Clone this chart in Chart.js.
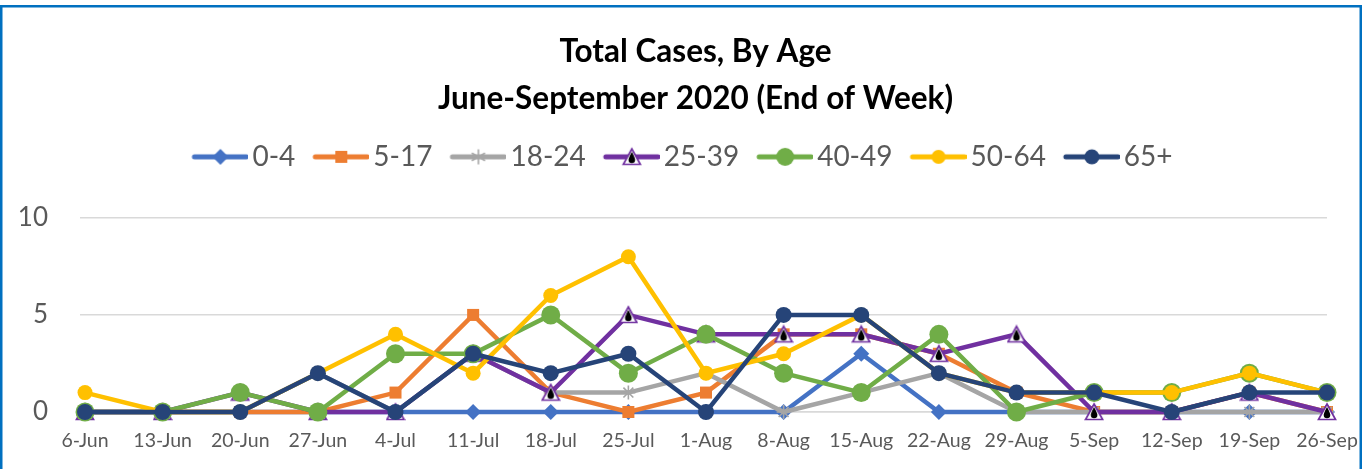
<!DOCTYPE html>
<html>
<head>
<meta charset="utf-8">
<script src="https://cdn.jsdelivr.net/npm/chart.js@4.4.1/dist/chart.umd.min.js"></script>
<style>
  html, body { margin: 0; padding: 0; background: #fff; overflow: hidden; }
  #wrap { position: relative; width: 1363px; height: 469px; }
  canvas { display: block; }
</style>
</head>
<body>
<div id="wrap"><canvas id="c" width="1363" height="469"></canvas></div>
<script>
const weeks = ['6-Jun','13-Jun','20-Jun','27-Jun','4-Jul','11-Jul','18-Jul','25-Jul','1-Aug','8-Aug','15-Aug','22-Aug','29-Aug','5-Sep','12-Sep','19-Sep','26-Sep'];
const age0to4   = [0,0,0,0,0,0,0,0,0,0,3,0,0,0,0,0,0];
const age5to17  = [0,0,0,0,1,5,1,0,1,4,4,3,1,0,0,1,0];
const age18to24 = [0,0,0,2,0,3,1,1,2,0,1,2,0,0,0,0,0];
const age25to39 = [0,0,1,0,0,3,1,5,4,4,4,3,4,0,0,1,0];
const age40to49 = [0,0,1,0,3,3,5,2,4,2,1,4,0,1,1,2,1];
const age50to64 = [1,0,0,2,4,2,6,8,2,3,5,2,1,1,1,2,1];
const age65plus = [0,0,0,2,0,3,2,3,0,5,5,2,1,1,0,1,1];
const seriesNames = ['0-4','5-17','18-24','25-39','40-49','50-64','65+'];
const yTicks = [0,5,10];

const FONT = 'Lato, "Open Sans", sans-serif';
const C = { blue:'#4472C4', orange:'#ED7D31', gray:'#A5A5A5', purple:'#7030A0', green:'#70AD47', yellow:'#FFC000', navy:'#264478' };

function drawMarker(g, kind, x, y, color) {
  g.save();
  g.fillStyle = color; g.strokeStyle = color;
  if (kind === 'diamond') {
    g.beginPath(); g.moveTo(x, y-8); g.lineTo(x+8, y); g.lineTo(x, y+8); g.lineTo(x-8, y); g.closePath(); g.fill();
  } else if (kind === 'square') {
    g.fillRect(x-6, y-6, 12, 12);
  } else if (kind === 'star') {
    g.lineWidth = 1.6; g.beginPath();
    const r = 7;
    g.moveTo(x, y-r); g.lineTo(x, y+r);
    g.moveTo(x-r*0.87, y-r*0.5); g.lineTo(x+r*0.87, y+r*0.5);
    g.moveTo(x-r*0.87, y+r*0.5); g.lineTo(x+r*0.87, y-r*0.5);
    g.stroke();
  } else if (kind === 'triangle') {
    g.beginPath(); g.moveTo(x, y-8); g.lineTo(x+8.5, y+7.5); g.lineTo(x-8.5, y+7.5); g.closePath();
    g.fillStyle = '#fff'; g.fill(); g.lineWidth = 1.7; g.strokeStyle = color; g.stroke();
    g.beginPath(); g.moveTo(x, y-5);
    g.quadraticCurveTo(x+3.5, y+1.5, x+3.3, y+3);
    g.arc(x, y+3, 3.3, 0, Math.PI);
    g.quadraticCurveTo(x-3.5, y+1.5, x, y-5);
    g.fillStyle = '#000'; g.fill();
  } else if (kind.startsWith('circle')) {
    const r = parseFloat(kind.slice(6));
    g.beginPath(); g.arc(x, y, r, 0, Math.PI*2); g.fill();
  }
  g.restore();
}
function markerCanvas(kind, color) {
  const c = document.createElement('canvas'); c.width = 20; c.height = 20;
  drawMarker(c.getContext('2d'), kind, 10, 10, color);
  return c;
}
function legendCanvas(kind, color) {
  const c = document.createElement('canvas'); c.width = 76; c.height = 22;
  const g = c.getContext('2d');
  g.strokeStyle = color; g.lineWidth = 5; g.lineCap = 'round';
  g.beginPath(); g.moveTo(22, 11); g.lineTo(74, 11); g.stroke();
  drawMarker(g, kind, 48, 11, color);
  return c;
}

const styles = [
  { data: age0to4,   color: C.blue,   kind: 'diamond',  pt: 'rectRot', r: 8 },
  { data: age5to17,  color: C.orange, kind: 'square',   pt: 'rect',    r: 8.5 },
  { data: age18to24, color: C.gray,   kind: 'star',     pt: 'star',    r: 7 },
  { data: age25to39, color: C.purple, kind: 'triangle', pt: null,      r: 8 },
  { data: age40to49, color: C.green,  kind: 'circle9',  pt: 'circle',  r: 9.5 },
  { data: age50to64, color: C.yellow, kind: 'circle7',  pt: 'circle',  r: 7.5 },
  { data: age65plus, color: C.navy,   kind: 'circle7.5',pt: 'circle',  r: 8 }
];

const datasets = styles.map((s, i) => ({
  label: seriesNames[i],
  data: s.data,
  borderColor: s.color,
  backgroundColor: s.color,
  borderWidth: 4.5,
  pointStyle: s.pt ? s.pt : markerCanvas(s.kind, s.color),
  pointRadius: s.r,
  pointHoverRadius: s.r,
  pointBorderWidth: s.pt === 'star' ? 1.6 : 0,
  pointBorderColor: s.color,
  pointBackgroundColor: s.color,
  tension: 0,
  clip: false,
  order: 7 - i,
  legendImg: legendCanvas(s.kind, s.color)
}));

const frame = {
  id: 'frame',
  afterDraw(chart) {
    const g = chart.ctx; g.save();
    g.strokeStyle = '#0070C0'; g.lineWidth = 2.5;
    g.strokeRect(1.25, 6.25, 1359.5, 520);
    g.restore();
  }
};
const legendGap = {
  id: 'legendGap',
  beforeInit(chart) {
    const fit = chart.legend.fit;
    chart.legend.fit = function () { fit.call(this); this.height += 37; };
  },
  afterLayout(chart) {
    const t = chart.titleBlock;
    if (t) { t.left += 64; }
    const l = chart.legend;
    if (l) { l.left += 14; l.right += 14; }
  }
};

new Chart(document.getElementById('c'), {
  type: 'line',
  data: { labels: weeks, datasets },
  plugins: [legendGap, frame],
  options: {
    responsive: false,
    animation: false,
    layout: { autoPadding: false, padding: { left: 0, right: 36, top: 0, bottom: 17.6 } },
    plugins: {
      tooltip: { enabled: false },
      title: {
        display: true,
        text: ['Total Cases, By Age', 'June-September 2020 (End of Week)'],
        color: '#000',
        font: { family: FONT, size: 31.5, weight: 'bold', lineHeight: 1.49 },
        padding: { top: 28, bottom: 13 }
      },
      legend: {
        display: true,
        position: 'top',
        labels: {
          color: '#595959',
          font: { family: FONT, size: 28 },
          usePointStyle: true,
          pointStyleWidth: 56,
          padding: 8,
          sort: (a, b) => a.datasetIndex - b.datasetIndex,
          generateLabels(chart) {
            const items = Chart.defaults.plugins.legend.labels.generateLabels(chart);
            items.forEach(it => { it.pointStyle = chart.data.datasets[it.datasetIndex].legendImg; });
            return items;
          }
        }
      }
    },
    scales: {
      x: {
        offset: false,
        afterFit(scale) { scale.paddingLeft = 0; scale.paddingRight = 0; scale.paddingTop = 0; scale.paddingBottom = 0; scale.height = 39.4; },
        grid: { display: false, drawTicks: false },
        border: { display: true, color: '#D9D9D9', width: 1.5 },
        ticks: { color: '#595959', font: { family: FONT, size: 19.5 }, padding: 17, maxRotation: 0, autoSkip: false }
      },
      y: {
        min: 0, max: 10,
        afterFit(scale) { scale.width = 85; scale.paddingTop = 0; scale.paddingBottom = 0; scale.paddingLeft = 0; scale.paddingRight = 0; },
        afterBuildTicks(scale) { scale.ticks = yTicks.map(v => ({ value: v })); },
        grid: { color: '#D9D9D9', lineWidth: 1.5, drawTicks: true, tickLength: 5 },
        border: { display: false },
        ticks: { color: '#595959', font: { family: FONT, size: 26 }, padding: 32 }
      }
    }
  }
});
</script>
</body>
</html>
